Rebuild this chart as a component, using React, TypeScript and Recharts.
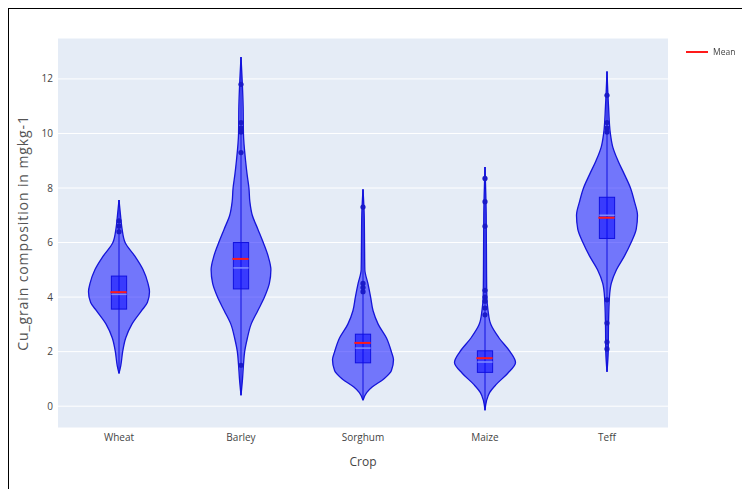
import { ComposedChart, Bar, XAxis, YAxis, CartesianGrid, Curve } from 'recharts';

const crops = ['Wheat', 'Barley', 'Sorghum', 'Maize', 'Teff'];

// violin outline, top to bottom: [value, half-width relative to widest point]
const wheatDensity = [
  [7.56, 0], [7.0, 0.05], [6.5, 0.1], [6.0, 0.2], [5.5, 0.52], [5.0, 0.79], [4.5, 0.95],
  [4.2, 1.0], [3.8, 0.93], [3.5, 0.74], [3.0, 0.42], [2.5, 0.22], [2.0, 0.12], [1.5, 0.06], [1.2, 0],
];
const barleyDensity = [
  [12.8, 0], [11.0, 0.07], [10.0, 0.08], [9.0, 0.15], [8.5, 0.2], [8.0, 0.26], [7.5, 0.29],
  [7.0, 0.37], [6.5, 0.55], [6.0, 0.73], [5.5, 0.89], [5.0, 0.98], [4.5, 0.93], [4.0, 0.77],
  [3.5, 0.55], [3.0, 0.33], [2.5, 0.21], [2.0, 0.12], [1.5, 0.08], [1.0, 0.05], [0.4, 0],
];
const sorghumDensity = [
  [7.95, 0], [7.0, 0.04], [6.0, 0.05], [5.0, 0.06], [4.5, 0.16], [4.0, 0.25], [3.5, 0.33],
  [3.0, 0.5], [2.5, 0.77], [2.0, 0.93], [1.7, 1.0], [1.3, 0.93], [1.0, 0.68], [0.7, 0.3],
  [0.5, 0.12], [0.22, 0],
];
const maizeDensity = [
  [8.77, 0], [7.0, 0.04], [5.0, 0.05], [4.0, 0.06], [3.5, 0.1], [3.0, 0.19], [2.5, 0.46],
  [2.0, 0.82], [1.6, 1.0], [1.2, 0.74], [0.8, 0.37], [0.5, 0.15], [0.2, 0.05], [-0.15, 0],
];
const teffDensity = [
  [12.27, 0], [11.0, 0.05], [10.0, 0.11], [9.5, 0.19], [9.0, 0.36], [8.5, 0.57], [8.0, 0.77],
  [7.5, 0.9], [7.0, 1.0], [6.5, 0.96], [6.0, 0.79], [5.5, 0.57], [5.0, 0.31], [4.5, 0.14],
  [4.0, 0.08], [3.0, 0.05], [2.0, 0.04], [1.26, 0],
];

const q1 = [3.56, 4.3, 1.59, 1.24, 6.15];
const medians = [4.1, 5.07, 2.13, 1.62, 7.0];
const q3 = [4.77, 6.0, 2.64, 2.03, 7.66];
const means = [4.18, 5.4, 2.32, 1.76, 6.91];

const wheatOutliers = [6.4, 6.6, 6.8];
const barleyOutliers = [11.8, 10.4, 10.2, 10.05, 9.3, 1.5];
const sorghumOutliers = [7.3, 4.5, 4.35, 4.2];
const maizeOutliers = [8.35, 7.5, 6.6, 4.25, 4.0, 3.85, 3.6, 3.35];
const teffOutliers = [11.4, 10.4, 10.2, 10.05, 3.9, 3.05, 2.35, 2.1];

const yTicks = [0, 2, 4, 6, 8, 10, 12];

const densities = [wheatDensity, barleyDensity, sorghumDensity, maizeDensity, teffDensity];
const outliers = [wheatOutliers, barleyOutliers, sorghumOutliers, maizeOutliers, teffOutliers];

const data = crops.map((crop, i) => {
  const vals = densities[i].map((d) => d[0]);
  return {
    crop,
    range: [Math.min(...vals), Math.max(...vals)],
    density: densities[i],
    q1: q1[i],
    median: medians[i],
    q3: q3[i],
    mean: means[i],
    outliers: outliers[i],
  };
});

function ViolinShape(props: any) {
  const { x, y, width, height, payload } = props;
  const [lo, hi] = payload.range;
  const toY = (v: number) => y + (height * (hi - v)) / (hi - lo);
  const cx = x + width / 2;
  const maxHalf = width * 0.25;
  const boxHalf = maxHalf * 0.25;

  const right = payload.density.map(([v, w]: number[]) => ({ x: cx + w * maxHalf, y: toY(v) }));
  const left = right.map((p: any) => ({ x: 2 * cx - p.x, y: p.y }));

  return (
    <g>
      <Curve type="monotoneY" points={right} fill="rgba(0,0,255,0.5)" stroke="#1515d8" strokeWidth={1.3} />
      <Curve type="monotoneY" points={left} fill="rgba(0,0,255,0.5)" stroke="#1515d8" strokeWidth={1.3} />
      <line x1={cx} x2={cx} y1={toY(hi)} y2={toY(lo)} stroke="#1010e0" strokeWidth={1} />
      <rect
        x={cx - boxHalf}
        y={toY(payload.q3)}
        width={boxHalf * 2}
        height={toY(payload.q1) - toY(payload.q3)}
        fill="rgba(0,0,255,0.5)"
        stroke="#1010e0"
        strokeWidth={1}
      />
      <line x1={cx - boxHalf} x2={cx + boxHalf} y1={toY(payload.median)} y2={toY(payload.median)} stroke="#7f8cff" strokeWidth={1.5} />
      <line x1={cx - boxHalf - 1} x2={cx + boxHalf} y1={toY(payload.mean)} y2={toY(payload.mean)} stroke="#ff1a1a" strokeWidth={2} />
      {payload.outliers.map((v: number, k: number) => (
        <circle key={k} cx={cx} cy={toY(v)} r={2.6} fill="#1a1ac8" />
      ))}
    </g>
  );
}

function YTitle(props: any) {
  const { viewBox } = props;
  const tx = 13;
  const ty = viewBox.y + viewBox.height / 2;
  return (
    <text
      x={tx}
      y={ty}
      transform={`rotate(-90 ${tx} ${ty})`}
      textAnchor="middle"
      dominantBaseline="central"
      fontSize={14}
      letterSpacing={0.9}
      fill="#555"
      fontFamily="'Open Sans', sans-serif"
    >
      Cu_grain composition in mgkg-1
    </text>
  );
}

export default function App() {
  return (
    <>
      <div style={{ width: 725, height: 472, overflow: 'hidden', background: '#fff', paddingTop: 1, paddingLeft: 1, boxSizing: 'border-box' }}>
        <ComposedChart
          width={724}
          height={480}
          data={data}
          margin={{ top: 29, right: 65, bottom: 31, left: 10 }}
          barCategoryGap="0%"
          style={{ fontFamily: "'Open Sans', sans-serif" }}
        >
          <CartesianGrid vertical={false} stroke="#ffffff" strokeWidth={1} fill="#E5ECF6" />
          <XAxis
            dataKey="crop"
            tickLine={false}
            axisLine={false}
            tickSize={6}
            tickMargin={0}
            height={30}
            tick={{ fontSize: 10, fill: '#444' }}
            label={{ value: 'Crop', position: 'bottom', offset: -1, fontSize: 12, fill: '#444' }}
          />
          <YAxis
            type="number"
            domain={[-0.8, 13.5]}
            ticks={yTicks}
            allowDataOverflow
            width={39}
            tickLine={false}
            axisLine={false}
            tickSize={0}
            tickMargin={5}
            tick={{ fontSize: 10, fill: '#444' }}
            label={<YTitle />}
          />
          <Bar dataKey="range" shape={<ViolinShape />} isAnimationActive={false} />
        </ComposedChart>
      </div>
      <div
        style={{
          position: 'fixed',
          left: 8,
          top: 8,
          width: 740,
          height: 490,
          borderTop: '1px solid #000',
          borderLeft: '1px solid #000',
          pointerEvents: 'none',
        }}
      />
      <div
        style={{
          position: 'fixed',
          left: 686,
          top: 46,
          display: 'flex',
          alignItems: 'center',
          fontFamily: "'Open Sans', sans-serif",
          fontSize: 8.5,
          color: '#444',
          whiteSpace: 'nowrap',
        }}
      >
        <svg width={22} height={4} style={{ marginRight: 5, flexShrink: 0 }}>
          <line x1={0} x2={22} y1={2} y2={2} stroke="#ff1a1a" strokeWidth={2} />
        </svg>
        <span>Mean</span>
      </div>
    </>
  );
}
